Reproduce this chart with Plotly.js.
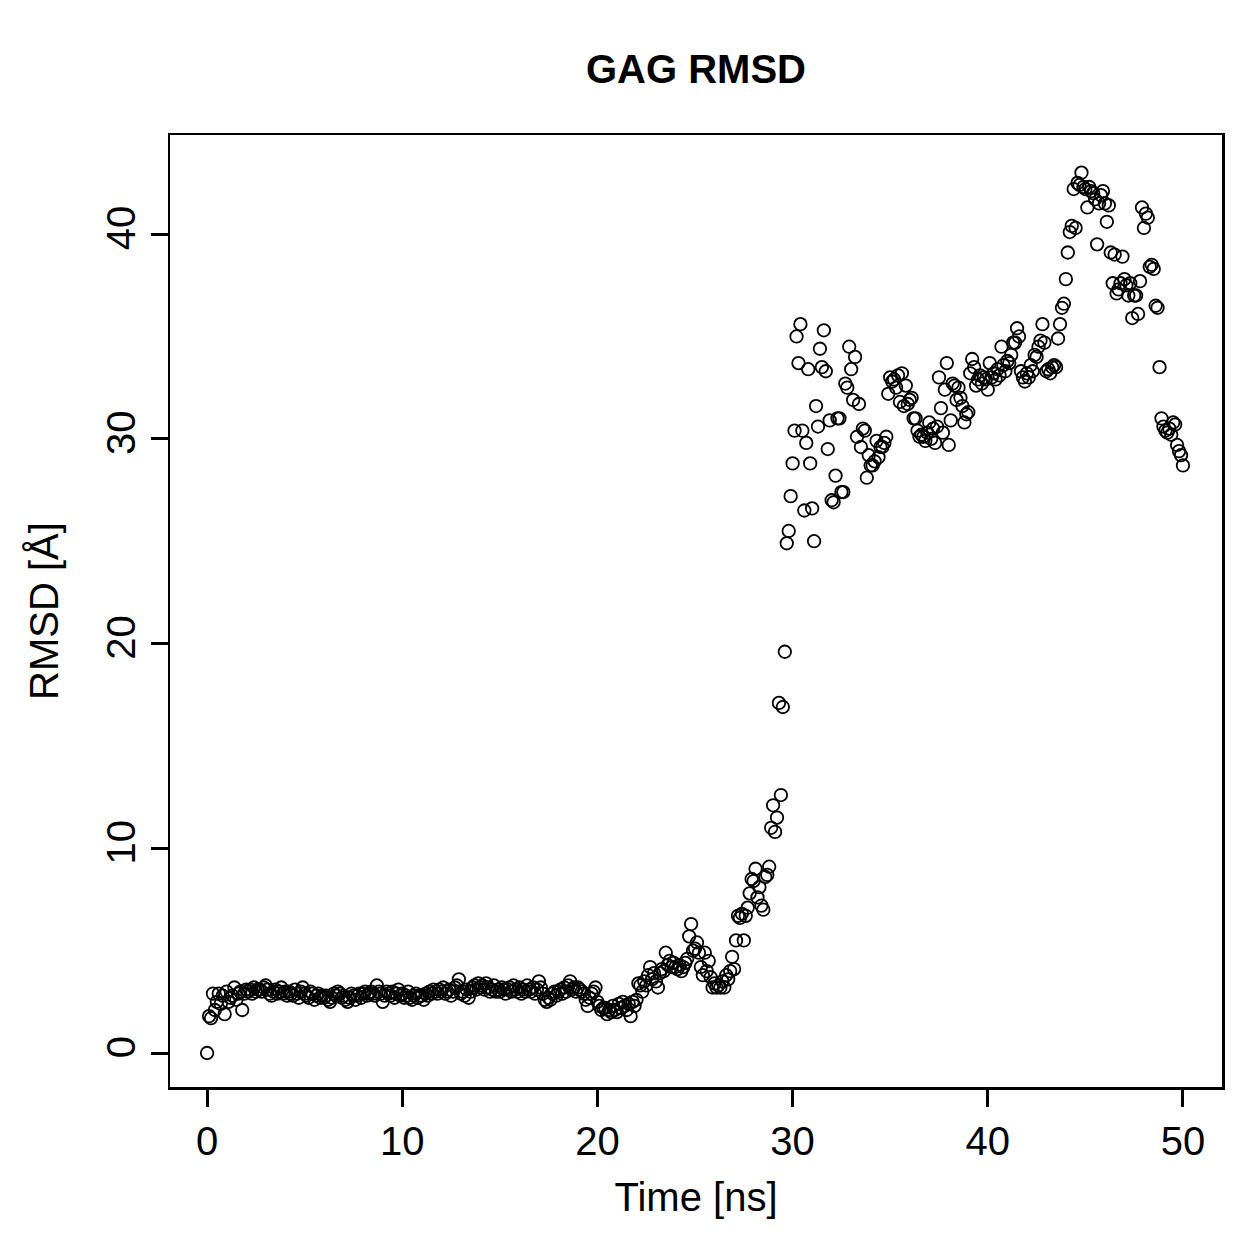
<!DOCTYPE html>
<html>
<head>
<meta charset="utf-8">
<script src="https://cdn.plot.ly/plotly-3.0.1.min.js"></script>
<style>html,body{margin:0;padding:0;background:#fff;}#chart{width:1259px;height:1259px;}</style>
</head>
<body>
<div id="chart"></div>
<script>
// Time [ns]
const time = [
0,0.1,0.2,0.3,0.4,0.5,0.6,0.7,0.8,0.9,
1,1.1,1.2,1.3,1.4,1.5,1.6,1.7,1.8,1.9,
2,2.1,2.2,2.3,2.4,2.5,2.6,2.7,2.8,2.9,
3,3.1,3.2,3.3,3.4,3.5,3.6,3.7,3.8,3.9,
4,4.1,4.2,4.3,4.4,4.5,4.6,4.7,4.8,4.9,
5,5.1,5.2,5.3,5.4,5.5,5.6,5.7,5.8,5.9,
6,6.1,6.2,6.3,6.4,6.5,6.6,6.7,6.8,6.9,
7,7.1,7.2,7.3,7.4,7.5,7.6,7.7,7.8,7.9,
8,8.1,8.2,8.3,8.4,8.5,8.6,8.7,8.8,8.9,
9,9.1,9.2,9.3,9.4,9.5,9.6,9.7,9.8,9.9,
10,10.1,10.2,10.3,10.4,10.5,10.6,10.7,10.8,10.9,
11,11.1,11.2,11.3,11.4,11.5,11.6,11.7,11.8,11.9,
12,12.1,12.2,12.3,12.4,12.5,12.6,12.7,12.8,12.9,
13,13.1,13.2,13.3,13.4,13.5,13.6,13.7,13.8,13.9,
14,14.1,14.2,14.3,14.4,14.5,14.6,14.7,14.8,14.9,
15,15.1,15.2,15.3,15.4,15.5,15.6,15.7,15.8,15.9,
16,16.1,16.2,16.3,16.4,16.5,16.6,16.7,16.8,16.9,
17,17.1,17.2,17.3,17.4,17.5,17.6,17.7,17.8,17.9,
18,18.1,18.2,18.3,18.4,18.5,18.6,18.7,18.8,18.9,
19,19.1,19.2,19.3,19.4,19.5,19.6,19.7,19.8,19.9,
20,20.1,20.2,20.3,20.4,20.5,20.6,20.7,20.8,20.9,
21,21.1,21.2,21.3,21.4,21.5,21.6,21.7,21.8,21.9,
22,22.1,22.2,22.3,22.4,22.5,22.6,22.7,22.8,22.9,
23,23.1,23.2,23.3,23.4,23.5,23.6,23.7,23.8,23.9,
24,24.1,24.2,24.3,24.4,24.5,24.6,24.7,24.8,24.9,
25,25.1,25.2,25.3,25.4,25.5,25.6,25.7,25.8,25.9,
26,26.1,26.2,26.3,26.4,26.5,26.6,26.7,26.8,26.9,
27,27.1,27.2,27.3,27.4,27.5,27.6,27.7,27.8,27.9,
28,28.1,28.2,28.3,28.4,28.5,28.6,28.7,28.8,28.9,
29,29.1,29.2,29.3,29.4,29.5,29.6,29.7,29.8,29.9,
30,30.1,30.2,30.3,30.4,30.5,30.6,30.7,30.8,30.9,
31,31.1,31.2,31.3,31.4,31.5,31.6,31.7,31.8,31.9,
32,32.1,32.2,32.3,32.4,32.5,32.6,32.7,32.8,32.9,
33,33.1,33.2,33.3,33.4,33.5,33.6,33.7,33.8,33.9,
34,34.1,34.2,34.3,34.4,34.5,34.6,34.7,34.8,34.9,
35,35.1,35.2,35.3,35.4,35.5,35.6,35.7,35.8,35.9,
36,36.1,36.2,36.3,36.4,36.5,36.6,36.7,36.8,36.9,
37,37.1,37.2,37.3,37.4,37.5,37.6,37.7,37.8,37.9,
38,38.1,38.2,38.3,38.4,38.5,38.6,38.7,38.8,38.9,
39,39.1,39.2,39.3,39.4,39.5,39.6,39.7,39.8,39.9,
40,40.1,40.2,40.3,40.4,40.5,40.6,40.7,40.8,40.9,
41,41.1,41.2,41.3,41.4,41.5,41.6,41.7,41.8,41.9,
42,42.1,42.2,42.3,42.4,42.5,42.6,42.7,42.8,42.9,
43,43.1,43.2,43.3,43.4,43.5,43.6,43.7,43.8,43.9,
44,44.1,44.2,44.3,44.4,44.5,44.6,44.7,44.8,44.9,
45,45.1,45.2,45.3,45.4,45.5,45.6,45.7,45.8,45.9,
46,46.1,46.2,46.3,46.4,46.5,46.6,46.7,46.8,46.9,
47,47.1,47.2,47.3,47.4,47.5,47.6,47.7,47.8,47.9,
48,48.1,48.2,48.3,48.4,48.5,48.6,48.7,48.8,48.9,
49,49.1,49.2,49.3,49.4,49.5,49.6,49.7,49.8,49.9,
50
];

// RMSD [Å]
const rmsd = [
0.0,1.8,1.7,2.9,2.1,2.5,2.9,2.4,2.8,1.9,
3.0,2.5,2.7,2.8,3.2,2.6,2.9,3.0,2.1,2.9,
3.1,3.0,3.1,2.9,3.2,3.0,3.1,3.1,3.0,3.2,
3.3,3.1,2.9,2.8,3.0,3.1,2.9,3.0,3.2,2.9,
3.0,2.8,3.0,2.9,2.8,3.1,2.9,2.7,3.0,3.2,
2.9,2.8,2.7,3.0,2.9,2.6,2.8,2.9,2.7,2.8,
2.7,2.8,2.6,2.5,2.7,2.9,2.8,3.0,2.9,2.7,
2.8,2.6,2.5,2.7,2.9,2.8,2.6,2.8,2.9,2.7,
2.9,3.0,2.8,2.9,3.0,2.9,2.8,3.3,3.0,2.9,
2.5,2.8,3.0,2.9,2.8,3.0,2.7,2.9,3.1,2.8,
2.9,2.7,2.8,3.0,2.7,2.6,2.8,2.9,2.7,2.8,
2.8,2.6,2.9,2.8,3.0,2.9,3.1,3.0,2.9,3.1,
3.0,3.2,2.9,3.0,3.1,2.8,3.0,3.2,3.3,3.6,
2.9,3.0,2.8,3.1,2.7,3.0,3.2,3.3,3.1,3.4,
3.2,3.3,3.1,3.4,3.2,3.0,3.1,3.3,3.0,3.1,
3.0,3.2,3.1,2.9,3.1,3.2,3.0,3.3,3.1,3.0,
3.2,2.9,3.1,3.0,3.3,3.1,3.0,3.2,2.9,3.1,
3.5,3.2,2.9,2.6,2.5,2.7,2.6,2.9,3.0,2.8,
3.0,3.1,2.9,3.2,3.0,3.3,3.5,3.1,3.2,3.0,
3.2,3.1,3.0,2.9,2.6,2.3,2.7,2.9,3.0,3.2,
2.5,2.3,2.1,2.2,2.2,1.9,2.1,2.0,2.3,2.1,
2.0,2.4,2.2,2.5,2.3,2.1,2.4,1.8,2.5,2.3,
2.6,3.4,3.3,3.0,3.5,3.3,3.8,4.2,3.6,3.9,
3.5,3.2,3.9,4.1,4.0,4.9,4.3,4.5,4.2,4.4,
4.2,4.1,4.3,4.0,4.2,4.4,4.6,5.7,6.3,5.0,
5.1,5.4,4.9,4.2,3.8,4.9,4.0,4.5,3.7,3.2,
3.4,3.2,3.3,3.2,3.5,3.2,3.8,3.6,4.0,4.7,
4.1,5.5,6.7,6.6,6.8,5.5,6.7,7.1,7.8,8.5,
8.4,9.0,7.6,8.1,7.2,7.0,8.6,8.7,9.1,11.0,
12.1,10.8,11.5,17.1,12.6,16.9,19.6,24.9,25.5,27.2,
28.8,30.4,35.0,33.7,35.6,30.4,26.5,29.8,33.4,28.8,
26.6,25.0,31.6,30.6,34.4,33.5,35.3,33.3,29.5,30.9,
27.0,26.9,28.2,31.0,31.0,27.4,27.4,32.7,32.5,34.5,
33.4,31.9,34.0,30.1,31.7,29.6,30.5,30.4,28.1,29.2,
28.7,28.7,28.9,29.9,29.1,29.6,29.6,29.8,30.1,32.2,
33.0,32.8,32.9,32.5,33.1,31.8,33.2,31.6,32.6,31.7,
31.9,32.0,31.0,31.0,30.4,30.1,30.2,30.1,29.9,30.3,
30.8,30.0,30.5,29.8,30.6,33.0,31.5,30.3,32.4,33.7,
29.7,30.9,32.7,32.6,31.9,32.5,32.0,31.6,30.8,31.2,
31.3,33.2,33.9,33.5,32.6,32.9,33.1,32.7,33.0,32.9,
32.4,33.7,33.0,33.2,32.9,33.4,33.1,34.5,33.6,33.3,
33.8,33.7,34.1,34.7,34.7,35.4,35.0,33.3,33.0,32.8,
33.2,33.0,33.6,33.3,34.1,34.0,34.5,34.8,35.6,34.7,
33.3,33.4,33.2,33.5,33.6,33.5,34.9,35.6,36.4,36.6,
37.8,39.1,40.1,40.4,42.2,40.3,42.5,42.4,43.0,42.3,
42.2,41.3,42.3,42.1,42.0,41.7,39.5,41.5,41.9,42.1,
41.5,40.6,41.4,39.1,37.6,39.0,37.1,37.3,37.6,38.9,
37.8,37.5,37.0,37.6,35.9,37.0,37.0,36.1,37.7,41.3,
40.3,41.0,40.8,38.4,38.5,38.3,36.5,36.4,33.5,31.0,
30.6,30.4,30.3,30.5,30.2,30.8,30.7,29.7,29.4,29.2,
28.7
];

const xTicks = [0, 10, 20, 30, 40, 50];
const yTicks = [0, 10, 20, 30, 40];

const FONT = 'Liberation Sans, Arial, Helvetica, sans-serif';

const trace = {
  x: time,
  y: rmsd,
  type: 'scatter',
  mode: 'markers',
  marker: {
    symbol: 'circle-open',
    size: 12.5,
    color: '#000',
    line: {color: '#000', width: 1.8}
  },
  hoverinfo: 'x+y'
};

const axisCommon = {
  showgrid: false,
  zeroline: false,
  showline: true,
  mirror: true,
  linecolor: '#000',
  linewidth: 2.5,
  ticks: 'outside',
  ticklen: 17,
  tickwidth: 3,
  tickcolor: '#000',
  tickfont: {family: FONT, size: 40, color: '#000'}
};

const layout = {
  width: 1259,
  height: 1259,
  paper_bgcolor: '#fff',
  plot_bgcolor: '#fff',
  showlegend: false,
  margin: {l: 170, r: 37, t: 135, b: 172, pad: 0},
  font: {family: FONT, color: '#000'},
  title: {
    text: '<b>GAG RMSD</b>',
    font: {family: FONT, size: 40, color: '#000'},
    xref: 'paper', x: 0.5, xanchor: 'center',
    yref: 'container', y: 1 - 69 / 1259, yanchor: 'middle'
  },
  xaxis: Object.assign({}, axisCommon, {
    range: [-1.9, 52.0],
    tickvals: xTicks,
    ticktext: xTicks.map(String),
    title: {text: 'Time [ns]', font: {family: FONT, size: 40, color: '#000'}, standoff: 22}
  }),
  yaxis: Object.assign({}, axisCommon, {
    range: [-1.66, 44.84],
    tickvals: yTicks,
    ticktext: yTicks.map(String),
    tickangle: -90,
    title: {text: 'RMSD [Å]', font: {family: FONT, size: 40, color: '#000'}, standoff: 28}
  })
};

Plotly.newPlot('chart', [trace], layout, {displayModeBar: false, staticPlot: true});
</script>
</body>
</html>
